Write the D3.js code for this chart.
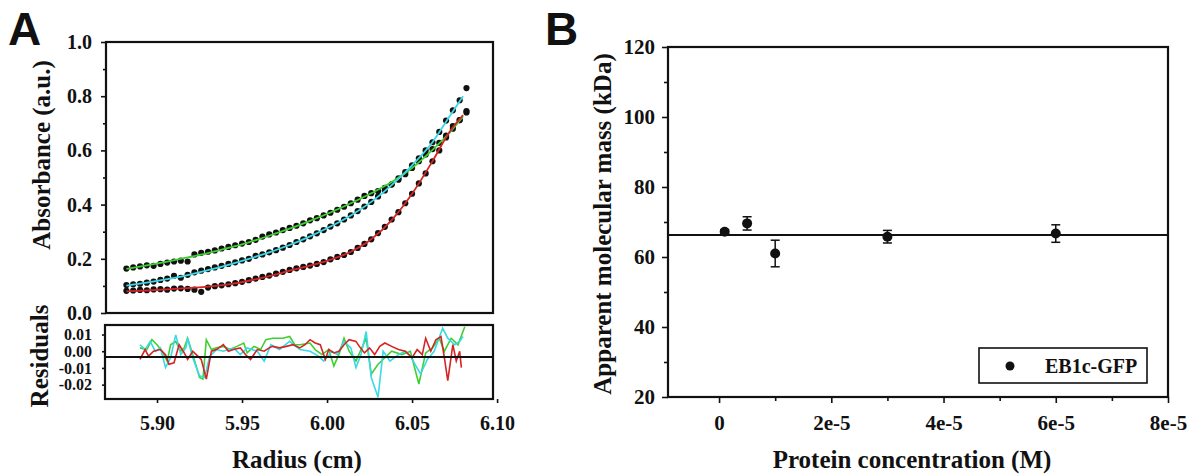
<!DOCTYPE html>
<html>
<head>
<meta charset="utf-8">
<script src="https://cdn.jsdelivr.net/npm/d3@7"></script>
<style>
  body { margin: 0; background: #fff; }
  svg text { font-family: 'Liberation Serif', 'Times New Roman', serif; font-weight: bold; fill: #111; }
</style>
</head>
<body>
<script>
'use strict';

// ---- panel A : absorbance scans (radius in cm, absorbance in a.u.) ----
const radius = [5.882, 5.886, 5.890, 5.894, 5.898, 5.902, 5.906, 5.910, 5.914, 5.918,
  5.922, 5.926, 5.930, 5.934, 5.938, 5.942, 5.946, 5.950, 5.954, 5.958,
  5.962, 5.966, 5.970, 5.974, 5.978, 5.982, 5.986, 5.990, 5.994, 5.998,
  6.002, 6.006, 6.010, 6.014, 6.018, 6.022, 6.026, 6.030, 6.034, 6.038,
  6.042, 6.046, 6.050, 6.054, 6.058, 6.062, 6.066, 6.070, 6.074, 6.078, 6.082];

const absGreen = [0.164, 0.168, 0.172, 0.176, 0.174, 0.181, 0.186, 0.190, 0.193, 0.190,
  0.216, 0.222, 0.226, 0.231, 0.238, 0.244, 0.250, 0.256, 0.262, 0.270,
  0.282, 0.290, 0.297, 0.306, 0.314, 0.322, 0.331, 0.342, 0.350, 0.360,
  0.370, 0.381, 0.392, 0.405, 0.418, 0.432, 0.442, 0.450, 0.462, 0.475,
  0.492, 0.512, 0.535, 0.560, 0.585, 0.605, 0.628, 0.655, 0.680, 0.712, 0.740];

const absCyan = [0.103, 0.106, 0.108, 0.112, 0.116, 0.122, 0.127, 0.137, 0.130, 0.141,
  0.150, 0.156, 0.162, 0.168, 0.174, 0.181, 0.187, 0.194, 0.200, 0.211,
  0.216, 0.224, 0.232, 0.241, 0.251, 0.262, 0.272, 0.283, 0.294, 0.306,
  0.319, 0.331, 0.345, 0.360, 0.376, 0.393, 0.410, 0.430, 0.452, 0.474,
  0.497, 0.520, 0.545, 0.571, 0.600, 0.630, 0.668, 0.710, 0.748, 0.785, 0.830];

const absRed = [0.082, 0.083, 0.085, 0.084, 0.087, 0.088, 0.086, 0.090, 0.091, 0.089,
  0.086, 0.078, 0.094, 0.099, 0.102, 0.106, 0.110, 0.115, 0.121, 0.127,
  0.133, 0.138, 0.145, 0.152, 0.159, 0.165, 0.170, 0.175, 0.181, 0.188,
  0.198, 0.207, 0.214, 0.225, 0.240, 0.255, 0.272, 0.295, 0.318, 0.345,
  0.372, 0.405, 0.440, 0.478, 0.515, 0.560, 0.600, 0.648, 0.690, 0.712, 0.745];

// fitted curves
const fitRadius = [5.882, 5.894, 5.906, 5.918, 5.930, 5.942, 5.954, 5.966, 5.978,
  5.990, 6.002, 6.014, 6.026, 6.038, 6.050, 6.062, 6.072, 6.080];
const fitGreen = [0.163, 0.176, 0.190, 0.205, 0.221, 0.240, 0.261, 0.285, 0.311,
  0.340, 0.371, 0.405, 0.442, 0.483, 0.535, 0.602, 0.665, 0.725];
const fitCyan = [0.101, 0.112, 0.125, 0.140, 0.158, 0.178, 0.200, 0.224, 0.251,
  0.283, 0.319, 0.360, 0.410, 0.472, 0.545, 0.630, 0.725, 0.800];
const fitRed = [0.080, 0.083, 0.087, 0.092, 0.097, 0.106, 0.119, 0.136, 0.156,
  0.175, 0.197, 0.226, 0.272, 0.343, 0.440, 0.560, 0.668, 0.730];

// residuals [radius, residual]
const residGreen = [[5.890, 0.0020], [5.894, 0.0010], [5.897, 0.0069], [5.900, 0.0039], [5.903, 0.0000],
  [5.906, -0.0059], [5.908, 0.0039], [5.911, 0.0059], [5.914, 0.0000], [5.916, 0.0020],
  [5.918, 0.0078], [5.921, -0.0020], [5.925, -0.0157], [5.927, -0.0167], [5.929, 0.0069],
  [5.932, 0.0010], [5.935, 0.0020], [5.939, 0.0029], [5.943, 0.0010], [5.947, 0.0029],
  [5.951, 0.0049], [5.953, -0.0010], [5.957, 0.0029], [5.961, 0.0010], [5.964, 0.0069],
  [5.968, 0.0078], [5.974, 0.0078], [5.978, 0.0088], [5.981, 0.0039], [5.984, 0.0039],
  [5.990, 0.0049], [5.993, 0.0010], [5.997, -0.0020], [6.001, 0.0010], [6.004, -0.0088],
  [6.007, -0.0020], [6.010, 0.0078], [6.013, 0.0000], [6.017, -0.0059], [6.020, 0.0010],
  [6.023, 0.0078], [6.026, -0.0137], [6.030, -0.0078], [6.034, -0.0039], [6.038, 0.0000],
  [6.044, -0.0020], [6.049, 0.0000], [6.054, -0.0196], [6.058, -0.0010], [6.062, 0.0020],
  [6.066, 0.0078], [6.069, 0.0000], [6.073, 0.0078], [6.077, 0.0039], [6.081, 0.0147]];

const residCyan = [[5.890, 0.0039], [5.893, 0.0010], [5.896, 0.0059], [5.899, 0.0000], [5.902, 0.0020],
  [5.905, -0.0098], [5.908, -0.0039], [5.911, 0.0098], [5.914, -0.0020], [5.917, 0.0020],
  [5.918, 0.0078], [5.921, -0.0039], [5.925, -0.0147], [5.928, -0.0157], [5.931, -0.0029],
  [5.935, 0.0010], [5.939, 0.0000], [5.945, 0.0020], [5.949, -0.0020], [5.953, 0.0020],
  [5.959, 0.0000], [5.963, -0.0059], [5.967, 0.0039], [5.972, 0.0010], [5.978, 0.0059],
  [5.984, 0.0010], [5.990, 0.0000], [5.995, -0.0029], [5.998, -0.0059], [6.003, 0.0000],
  [6.006, -0.0020], [6.010, 0.0059], [6.014, 0.0020], [6.017, -0.0098], [6.020, -0.0020],
  [6.023, 0.0118], [6.026, -0.0157], [6.030, -0.0275], [6.033, 0.0000], [6.037, -0.0059],
  [6.042, -0.0020], [6.046, 0.0000], [6.049, -0.0029], [6.055, -0.0137], [6.059, -0.0049],
  [6.063, 0.0000], [6.068, 0.0137], [6.071, 0.0078], [6.075, 0.0039], [6.078, 0.0059],
  [6.080, 0.0088]];

const residRed = [[5.890, -0.0049], [5.893, 0.0010], [5.895, -0.0029], [5.898, 0.0000], [5.902, 0.0010],
  [5.905, -0.0020], [5.907, -0.0078], [5.910, -0.0069], [5.913, 0.0039], [5.916, -0.0010],
  [5.918, -0.0049], [5.921, 0.0000], [5.924, -0.0029], [5.926, -0.0049], [5.929, -0.0167],
  [5.932, 0.0000], [5.935, 0.0010], [5.939, 0.0039], [5.942, 0.0000], [5.945, 0.0010],
  [5.949, 0.0020], [5.952, -0.0020], [5.955, -0.0049], [5.959, 0.0010], [5.963, 0.0000],
  [5.966, 0.0020], [5.968, 0.0029], [5.972, 0.0020], [5.976, 0.0029], [5.980, 0.0039],
  [5.984, 0.0020], [5.987, 0.0039], [5.990, 0.0069], [5.993, 0.0049], [5.996, 0.0039],
  [5.999, -0.0049], [6.001, 0.0010], [6.004, -0.0010], [6.007, 0.0000], [6.010, 0.0039],
  [6.013, 0.0069], [6.017, 0.0059], [6.019, 0.0029], [6.022, -0.0010], [6.025, 0.0020],
  [6.028, -0.0020], [6.031, 0.0029], [6.034, 0.0049], [6.038, 0.0029], [6.042, 0.0010],
  [6.046, 0.0000], [6.050, -0.0039], [6.053, 0.0010], [6.056, -0.0020], [6.058, 0.0078],
  [6.061, 0.0000], [6.064, 0.0069], [6.067, 0.0088], [6.069, -0.0039], [6.071, -0.0176],
  [6.074, 0.0039], [6.076, -0.0059], [6.078, 0.0000], [6.079, -0.0098]];

const residBaseline = -0.0035;

// ---- panel B : apparent molecular mass vs concentration ----
const concentration = [1e-6, 5e-6, 1e-5, 3e-5, 6e-5];
const massKDa = [67.2, 69.6, 61.0, 65.8, 66.7];
const massErr = [0.6, 1.9, 3.8, 1.8, 2.5];
const massFit = 66.3;

const bXTicks = [0, 2e-5, 4e-5, 6e-5, 8e-5];
const bXTickLabels = ['0', '2e-5', '4e-5', '6e-5', '8e-5'];

const GREEN = '#3fcf33';
const CYAN = '#3ad9e6';
const RED = '#d42424';
const SERIF = 'Liberation Serif, Times New Roman, serif';

let svg = null;

window.onload = function() {
  svg = d3.select('body')
    .append('svg')
    .attr('width', 1190)
    .attr('height', 476);

  drawPanelA();
  drawPanelB();
};

// style an axis group: no domain line, serif bold labels
function styleAxis(g, size) {
  g.attr('font-family', SERIF).attr('font-size', size);
  g.select('.domain').remove();
  g.selectAll('line').attr('stroke', '#111').attr('stroke-width', 1.6);
  g.selectAll('text')
    .attr('font-family', SERIF)
    .attr('font-weight', 'bold')
    .style('font-family', SERIF)
    .style('font-size', size + 'px')
    .attr('fill', '#111');
}

function frame(x0, y0, x1, y1, w) {
  svg.append('rect')
    .attr('x', x0).attr('y', y0)
    .attr('width', x1 - x0).attr('height', y1 - y0)
    .attr('fill', 'none')
    .attr('stroke', '#111')
    .attr('stroke-width', w);
}

function drawPanelA() {
  const xScale = d3.scaleLinear().domain([5.87, 6.0976]).range([106, 493]);
  const yScale = d3.scaleLinear().domain([0, 1]).range([313, 42]);
  const rScale = d3.scaleLinear().domain([-0.0286, 0.0157]).range([399, 325]);

  // y axis (major + minor)
  const yAxis = d3.axisLeft(yScale).tickValues([0, 0.2, 0.4, 0.6, 0.8, 1.0])
    .tickFormat(d3.format('.1f')).tickSize(5).tickPadding(9);
  styleAxis(svg.append('g').attr('transform', 'translate(106,0)').call(yAxis), 20);
  const yMinor = d3.axisLeft(yScale).tickValues([0.1, 0.3, 0.5, 0.7, 0.9])
    .tickFormat('').tickSize(3);
  styleAxis(svg.append('g').attr('transform', 'translate(106,0)').call(yMinor), 20);

  // residual y axis
  const rAxis = d3.axisLeft(rScale).tickValues([0.01, 0, -0.01, -0.02])
    .tickFormat(d => d3.format('.2f')(d).replace('\u2212', '-')).tickSize(3).tickPadding(10);
  styleAxis(svg.append('g').attr('transform', 'translate(105,0)').call(rAxis), 16);

  // x axis under residuals
  const xAxis = d3.axisBottom(xScale).tickValues([5.90, 5.95, 6.00, 6.05, 6.10])
    .tickFormat(d3.format('.2f')).tickSize(4).tickPadding(13);
  styleAxis(svg.append('g').attr('transform', 'translate(0,399)').call(xAxis), 20);

  // data points
  const series = [
    { abs: absGreen, fit: fitGreen, color: GREEN },
    { abs: absCyan, fit: fitCyan, color: CYAN },
    { abs: absRed, fit: fitRed, color: RED }
  ];

  const pts = svg.append('g');
  series.forEach(s => {
    pts.selectAll(null)
      .data(radius.map((r, i) => [r, s.abs[i]]))
      .enter()
      .append('circle')
        .attr('cx', d => xScale(d[0]))
        .attr('cy', d => yScale(d[1]))
        .attr('r', 3.1)
        .attr('fill', '#111');
  });

  const fitLine = d3.line()
    .x(d => xScale(d[0]))
    .y(d => yScale(d[1]))
    .curve(d3.curveMonotoneX);

  series.forEach(s => {
    svg.append('path')
      .datum(fitRadius.map((r, i) => [r, s.fit[i]]))
      .attr('d', fitLine)
      .attr('fill', 'none')
      .attr('stroke', s.color)
      .attr('stroke-width', 1.8);
  });

  // residual traces
  const residLine = d3.line()
    .x(d => xScale(d[0]))
    .y(d => rScale(d[1]));

  [[residGreen, GREEN], [residCyan, CYAN], [residRed, RED]].forEach(p => {
    svg.append('path')
      .datum(p[0])
      .attr('d', residLine)
      .attr('fill', 'none')
      .attr('stroke', p[1])
      .attr('stroke-width', 1.6);
  });

  svg.append('line')
    .attr('x1', 106).attr('x2', 493)
    .attr('y1', rScale(residBaseline)).attr('y2', rScale(residBaseline))
    .attr('stroke', '#111')
    .attr('stroke-width', 2);

  frame(106, 42, 493, 313, 2.2);
  frame(105, 325, 493, 399, 2.2);

  // labels
  svg.append('text')
    .attr('x', 8).attr('y', 45)
    .style('font-family', 'Liberation Sans, Arial, sans-serif')
    .style('font-size', '46px')
    .text('A');

  svg.append('text')
    .attr('transform', 'translate(41,155)rotate(-90)')
    .attr('text-anchor', 'middle')
    .attr('dy', '0.35em')
    .style('font-size', '25px')
    .text('Absorbance (a.u.)');

  svg.append('text')
    .attr('transform', 'translate(39,356)rotate(-90)')
    .attr('text-anchor', 'middle')
    .attr('dy', '0.35em')
    .style('font-size', '25px')
    .text('Residuals');

  svg.append('text')
    .attr('x', 297).attr('y', 468)
    .attr('text-anchor', 'middle')
    .style('font-size', '25px')
    .text('Radius (cm)');
}

function drawPanelB() {
  const xScale = d3.scaleLinear().domain([-0.91e-5, 8e-5]).range([668, 1168]);
  const yScale = d3.scaleLinear().domain([20, 120]).range([397, 47]);

  const yAxis = d3.axisLeft(yScale).tickValues([20, 40, 60, 80, 100, 120])
    .tickSize(6).tickPadding(7);
  styleAxis(svg.append('g').attr('transform', 'translate(668,0)').call(yAxis), 21);
  const yMinor = d3.axisLeft(yScale).tickValues([30, 50, 70, 90, 110])
    .tickFormat('').tickSize(4);
  styleAxis(svg.append('g').attr('transform', 'translate(668,0)').call(yMinor), 21);

  const xAxis = d3.axisBottom(xScale).tickValues(bXTicks)
    .tickFormat((d, i) => bXTickLabels[i]).tickSize(6).tickPadding(12);
  styleAxis(svg.append('g').attr('transform', 'translate(0,397)').call(xAxis), 21);
  const xMinor = d3.axisBottom(xScale).tickValues([1e-5, 3e-5, 5e-5, 7e-5])
    .tickFormat('').tickSize(4);
  styleAxis(svg.append('g').attr('transform', 'translate(0,397)').call(xMinor), 21);

  // fitted average mass
  svg.append('line')
    .attr('x1', 668).attr('x2', 1168)
    .attr('y1', yScale(massFit)).attr('y2', yScale(massFit))
    .attr('stroke', '#111')
    .attr('stroke-width', 2);

  const pts = concentration.map((c, i) => ({ c: c, m: massKDa[i], e: massErr[i] }));

  // error bars
  const eb = svg.append('g').attr('stroke', '#111').attr('stroke-width', 1.5);
  pts.forEach(d => {
    const x = xScale(d.c);
    eb.append('line').attr('x1', x).attr('x2', x)
      .attr('y1', yScale(d.m - d.e)).attr('y2', yScale(d.m + d.e));
    [d.m - d.e, d.m + d.e].forEach(v => {
      eb.append('line').attr('x1', x - 4.5).attr('x2', x + 4.5)
        .attr('y1', yScale(v)).attr('y2', yScale(v));
    });
  });

  svg.selectAll('.dot')
    .data(pts)
    .enter()
    .append('circle')
      .attr('class', 'dot')
      .attr('cx', d => xScale(d.c))
      .attr('cy', d => yScale(d.m))
      .attr('r', 5)
      .attr('fill', '#111');

  frame(668, 47, 1168, 397, 2.2);

  // legend
  frame(979, 348, 1147, 383, 1.6);
  svg.append('circle').attr('cx', 1010).attr('cy', 366).attr('r', 4.5).attr('fill', '#111');
  svg.append('text')
    .attr('x', 1045).attr('y', 373)
    .style('font-size', '20px')
    .text('EB1c-GFP');

  svg.append('text')
    .attr('x', 545).attr('y', 45)
    .style('font-family', 'Liberation Sans, Arial, sans-serif')
    .style('font-size', '46px')
    .text('B');

  svg.append('text')
    .attr('transform', 'translate(602,224)rotate(-90)')
    .attr('text-anchor', 'middle')
    .attr('dy', '0.35em')
    .style('font-size', '25px')
    .text('Apparent molecular mass (kDa)');

  svg.append('text')
    .attr('x', 912).attr('y', 468)
    .attr('text-anchor', 'middle')
    .style('font-size', '25px')
    .text('Protein concentration (M)');
}
</script>
</body>
</html>
